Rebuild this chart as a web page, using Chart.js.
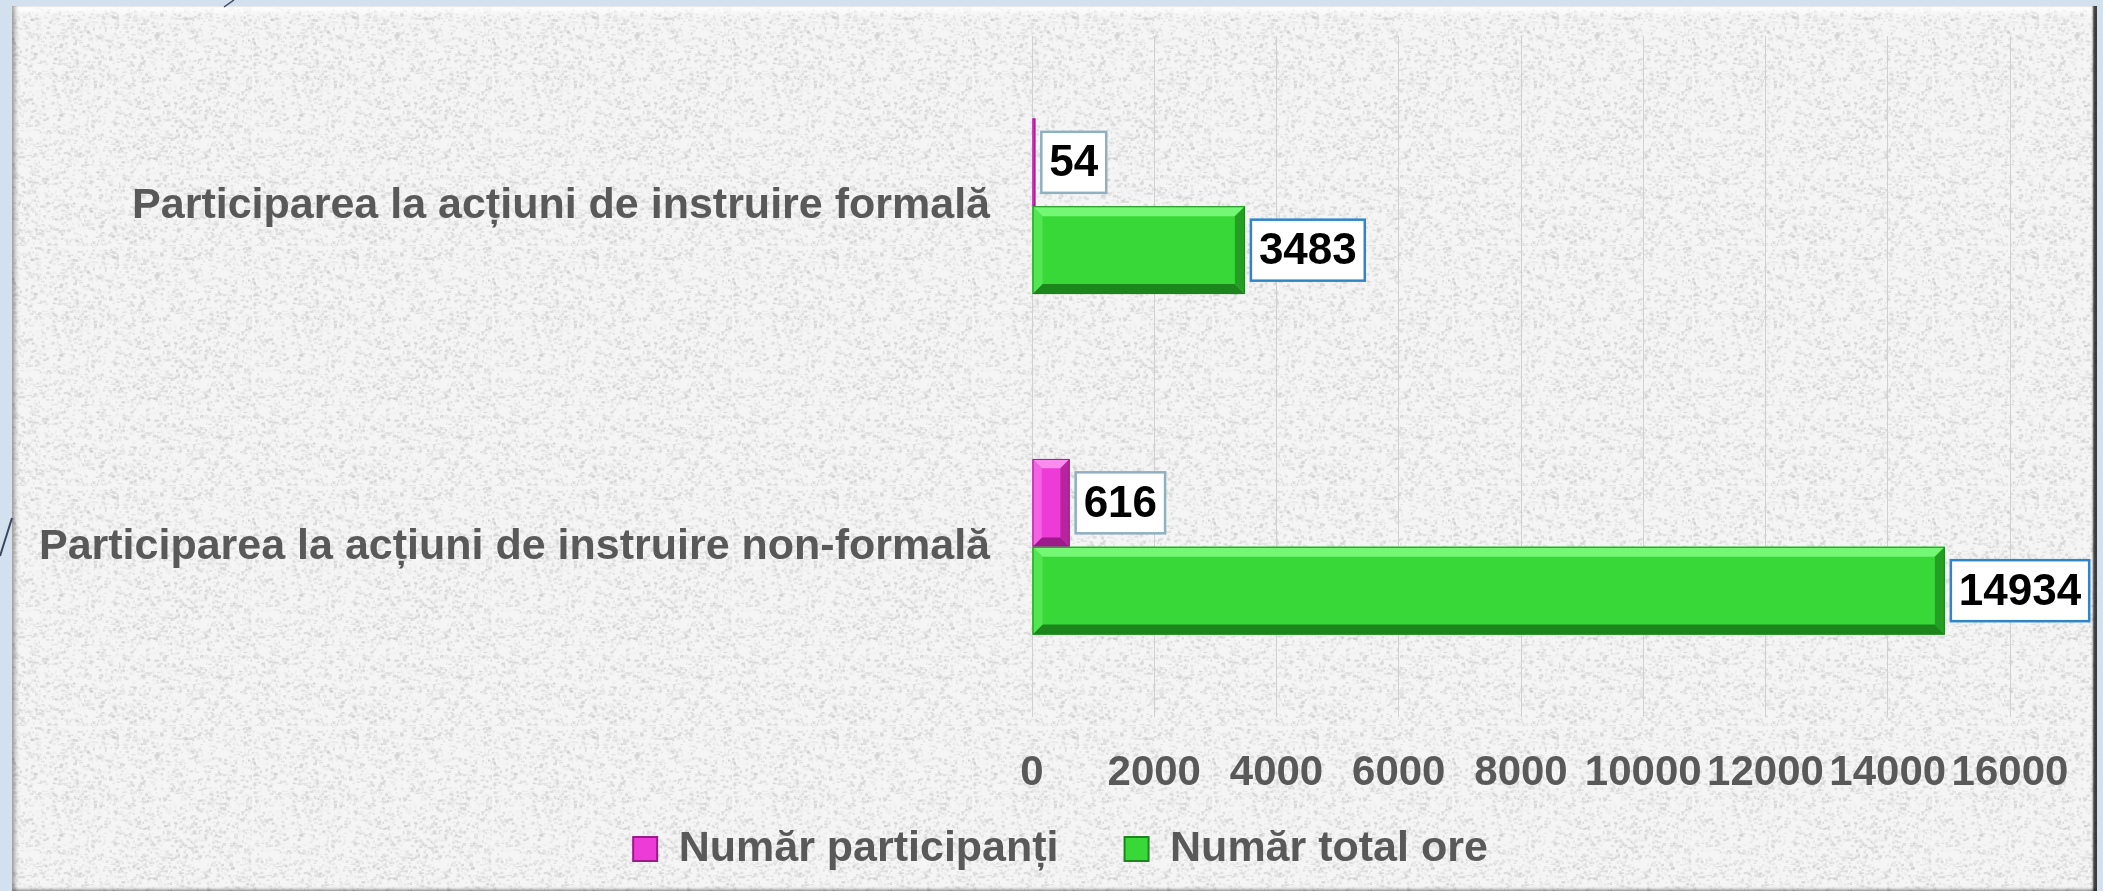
<!DOCTYPE html>
<html lang="ro">
<head>
<meta charset="utf-8">
<title>Participarea la acțiuni de instruire</title>
<script src="https://cdn.jsdelivr.net/npm/chart.js@4.4.1/dist/chart.umd.min.js"></script>
<style>
    html, body { margin: 0; padding: 0; }
    body {
        width: 2103px;
        height: 891px;
        overflow: hidden;
        background: #d3e1ee;
        position: relative;
        font-family: "Liberation Sans", Arial, sans-serif;
    }
    .panel {
        position: absolute;
        left: 12px;
        top: 6px;
        width: 2085px;
        height: 885px;
        background-color: #efefef;
        box-shadow:
            inset 5px 0 4px -2px rgba(0, 0, 0, 0.35),
            inset -5px 0 2px -1px rgba(0, 0, 0, 0.75),
            inset 0 10px 6px -4px rgba(255, 255, 255, 0.9),
            inset 0 -3px 3px -1px rgba(0, 0, 0, 0.3);
    }
    .deco { position: absolute; left: 0; top: 0; }
    .chart-box {
        position: absolute;
        left: 0;
        top: 0;
        width: 2103px;
        height: 891px;
    }
</style>
</head>
<body>
<div class="panel" id="panel"></div>
<svg class="deco" width="2103" height="891">
    <line x1="224" y1="7" x2="234" y2="0" stroke="#3a4560" stroke-width="1.5"/>
    <line x1="0" y1="556" x2="12" y2="518" stroke="#3a4560" stroke-width="2"/>
</svg>
<div class="chart-box">
    <canvas id="instruireChart"></canvas>
</div>

<script>
// Date
const categorii = [
    'Participarea la acțiuni de instruire formală',
    'Participarea la acțiuni de instruire non-formală'
];
const numarParticipanti = [54, 616];
const numarTotalOre = [3483, 14934];
const etichetaSerii = ['Număr participanți', 'Număr total ore'];
const axaX = { min: 0, max: 16000, pas: 2000 };

const culori = {
    roz:   { fill: '#ec3bd6', light: '#f98ced', mid: '#f462e4', dark: '#9c1a8b', dark2: '#b8239f', box: '#8eb0c0' },
    verde: { fill: '#39d839', light: '#74f774', mid: '#52e652', dark: '#1c861c', dark2: '#249f24', box: '#2e86c8' }
};

const FONT = '"Liberation Sans", Arial, sans-serif';

// Textura de fundal (pur decorativa)
function makeTexture() {
    const c = document.createElement('canvas');
    c.width = 240;
    c.height = 240;
    const g = c.getContext('2d');
    g.fillStyle = '#f5f5f5';
    g.fillRect(0, 0, 240, 240);
    let s = 2463534242;
    const next = () => { s ^= s << 13; s ^= s >>> 17; s ^= s << 5; return (s >>> 0) / 4294967296; };
    for (let i = 0; i < 5200; i++) {
        const v = 196 + Math.floor(next() * 44);
        g.fillStyle = `rgba(${v},${v},${v},0.55)`;
        g.fillRect(next() * 240, next() * 240, 1 + next() * 3, 1 + next() * 2);
    }
    return c.toDataURL();
}
document.getElementById('panel').style.backgroundImage = `url(${makeTexture()})`;

// Ajustari de layout: legenda centrata sub toata figura, etichetele axei X netaiate
const layoutFixPlugin = {
    id: 'layoutFix',
    afterLayout(chart) {
        chart.legend.left = 111;
        chart.scales.x.bottom = chart.height;
    }
};

// Efect de relief pe bare
const bevelPlugin = {
    id: 'bevel',
    afterDatasetsDraw(chart) {
        const ctx = chart.ctx;
        chart.data.datasets.forEach((ds, di) => {
            const pal = ds._pal;
            chart.getDatasetMeta(di).data.forEach(bar => {
                const { x, y, base, height } = bar.getProps(['x', 'y', 'base', 'height'], true);
                const l = Math.min(base, x), r = Math.max(base, x);
                const t = y - height / 2, b = y + height / 2;
                const w = r - l;
                const bv = Math.min(10, w / 4, height / 4);
                if (w <= 0) return;
                ctx.save();
                const poly = (pts, col) => {
                    ctx.beginPath();
                    ctx.moveTo(pts[0][0], pts[0][1]);
                    pts.slice(1).forEach(p => ctx.lineTo(p[0], p[1]));
                    ctx.closePath();
                    ctx.fillStyle = col;
                    ctx.fill();
                };
                poly([[l, t], [r, t], [r - bv, t + bv], [l + bv, t + bv]], pal.light);
                poly([[l, b], [r, b], [r - bv, b - bv], [l + bv, b - bv]], pal.dark);
                poly([[l, t], [l + bv, t + bv], [l + bv, b - bv], [l, b]], pal.mid);
                poly([[r, t], [r - bv, t + bv], [r - bv, b - bv], [r, b]], pal.dark2);
                ctx.strokeStyle = pal.dark;
                ctx.lineWidth = 1;
                ctx.strokeRect(l + 0.5, t + 0.5, w - 1, height - 1);
                ctx.restore();
            });
        });
    }
};

// Etichete cu valori, in casete albe
const valueLabelPlugin = {
    id: 'valueLabels',
    afterDatasetsDraw(chart) {
        const ctx = chart.ctx;
        ctx.save();
        ctx.font = `bold 44px ${FONT}`;
        ctx.textAlign = 'center';
        ctx.textBaseline = 'middle';
        chart.data.datasets.forEach((ds, di) => {
            chart.getDatasetMeta(di).data.forEach((bar, i) => {
                const txt = String(ds.data[i]);
                const tw = ctx.measureText(txt).width;
                const bw = tw + 16, bh = 61;
                const bx = bar.x + 6, by = bar.y - bh / 2;
                ctx.fillStyle = '#ffffff';
                ctx.fillRect(bx, by, bw, bh);
                ctx.strokeStyle = ds._pal.box;
                ctx.lineWidth = 2.5;
                ctx.strokeRect(bx, by, bw, bh);
                ctx.fillStyle = '#000000';
                ctx.fillText(txt, bx + bw / 2, bar.y + 2);
            });
        });
        ctx.restore();
    }
};

const ctx = document.getElementById('instruireChart').getContext('2d');
const chart = new Chart(ctx, {
    type: 'bar',
    data: {
        labels: categorii,
        datasets: [
            {
                label: etichetaSerii[0],
                data: numarParticipanti,
                backgroundColor: culori.roz.fill,
                borderColor: culori.roz.dark,
                borderWidth: 0,
                _pal: culori.roz
            },
            {
                label: etichetaSerii[1],
                data: numarTotalOre,
                backgroundColor: culori.verde.fill,
                borderColor: culori.verde.dark,
                borderWidth: 0,
                _pal: culori.verde
            }
        ]
    },
    options: {
        indexAxis: 'y',
        responsive: true,
        maintainAspectRatio: false,
        animation: false,
        categoryPercentage: 0.516,
        barPercentage: 1,
        layout: { padding: { top: 36, right: 93, left: 0, bottom: 10.5 } },
        plugins: {
            tooltip: { enabled: false },
            legend: {
                position: 'bottom',
                labels: {
                    color: '#595959',
                    font: { family: FONT, size: 43, weight: 'bold' },
                    boxWidth: 24,
                    boxHeight: 24,
                    padding: 66,
                    generateLabels(ch) {
                        return ch.data.datasets.map((ds, i) => ({
                            text: ds.label,
                            fillStyle: ds.backgroundColor,
                            strokeStyle: ds._pal.dark,
                            lineWidth: 2,
                            fontColor: '#595959',
                            datasetIndex: i,
                            hidden: false
                        }));
                    }
                }
            }
        },
        scales: {
            x: {
                min: axaX.min,
                max: axaX.max,
                border: { display: false },
                grid: { color: '#d0d0d0', lineWidth: 1, drawTicks: false },
                ticks: {
                    stepSize: axaX.pas,
                    color: '#595959',
                    font: { family: FONT, size: 42, weight: 'bold' },
                    padding: 31,
                    maxRotation: 0,
                    autoSkip: false,
                    callback: v => String(v)
                },
                afterFit(scale) { scale.height = 44.5; }
            },
            y: {
                border: { display: false },
                grid: { display: false, drawTicks: false },
                ticks: {
                    color: '#595959',
                    font: { family: FONT, size: 43, weight: 'bold' },
                    padding: 42
                },
                afterFit(scale) {
                    scale.width = 1032;
                    scale.paddingTop = 0;
                    scale.paddingBottom = 0;
                }
            }
        }
    },
    plugins: [layoutFixPlugin, bevelPlugin, valueLabelPlugin]
});
</script>
</body>
</html>
